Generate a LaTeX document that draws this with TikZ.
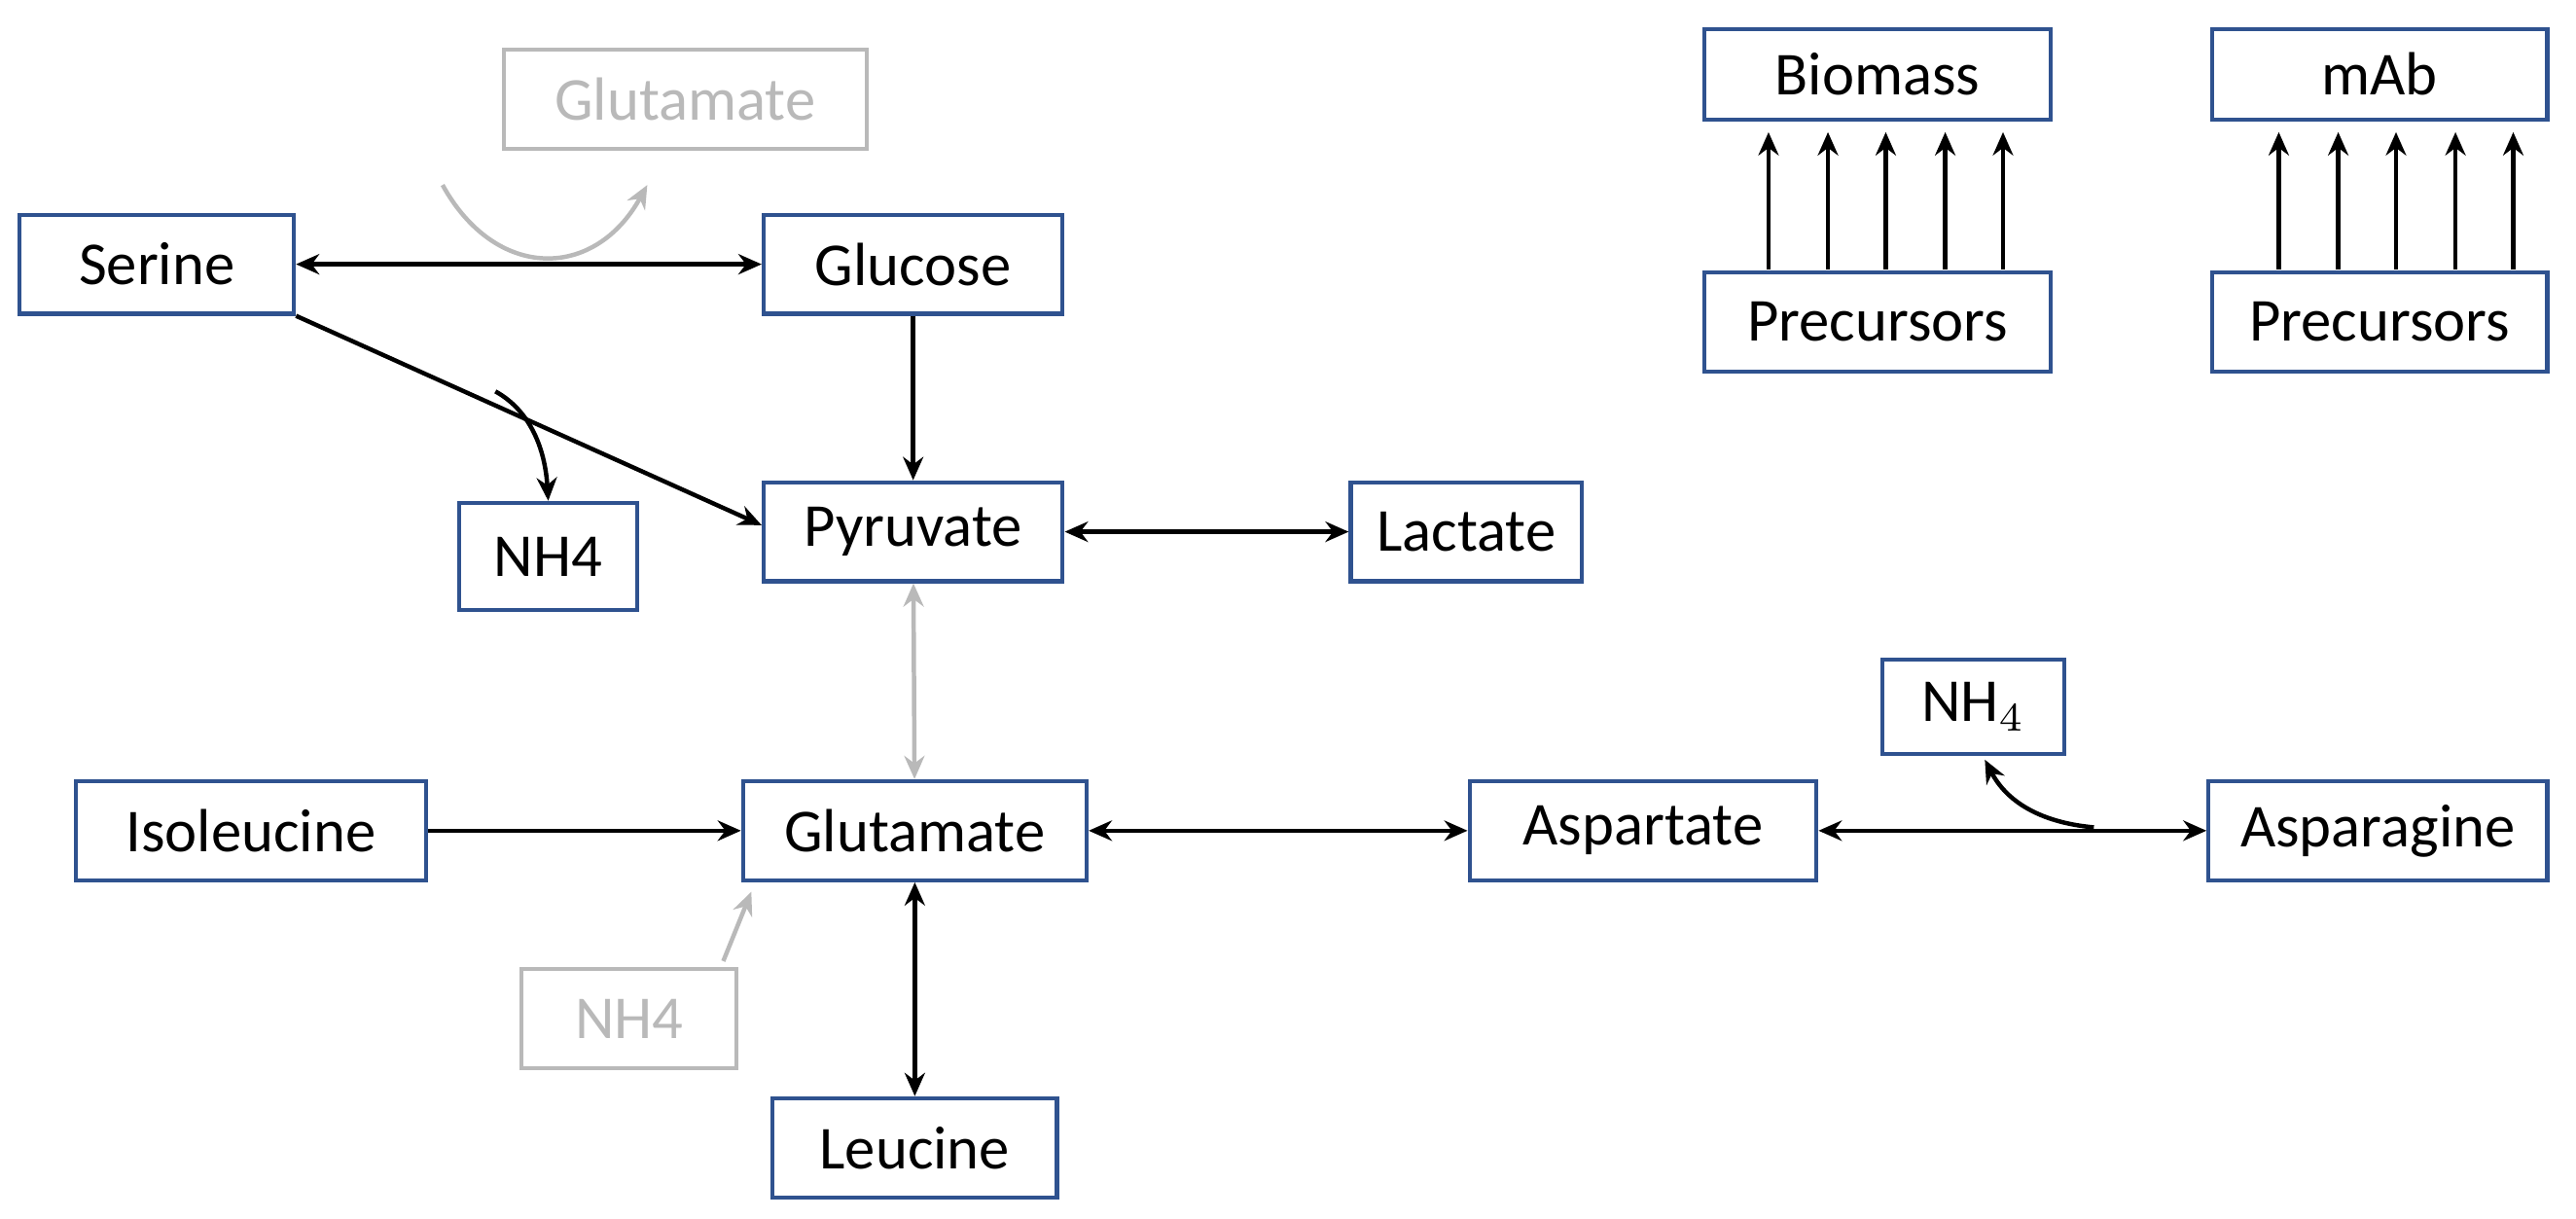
\documentclass[tikz,border=0pt]{standalone}
\usepackage{fontspec}
\setmainfont{Carlito}
\usetikzlibrary{arrows.meta}
\begin{document}
\begin{tikzpicture}[x=0.01cm,y=-0.01cm,
  box/.style={draw=boxblue,line width=0.7pt,minimum height=0.6cm,inner xsep=0.15cm,font=\fontsize{10.5}{12}\selectfont},
  gbox/.style={box,draw=lightgray!90!gray,text=lightgray!90!gray},
  ar/.style={line width=0.75pt,-{Stealth[length=4pt,width=3.5pt]}},
  dar/.style={line width=0.75pt,{Stealth[length=4pt,width=3.5pt]}-{Stealth[length=4pt,width=3.5pt]}},
  grey/.style={draw=lightgray!90!gray}]
\definecolor{boxblue}{RGB}{47,82,143}
\useasboundingbox (0,0) rectangle (1560,738);
\node[gbox,minimum width=2.2cm] (gtop) at (415,60) {Glutamate};
\node[box,minimum width=1.66cm] (ser) at (95,160) {Serine};
\node[box,minimum width=1.81cm] (glc) at (553,160) {Glucose};
\node[box,minimum width=2.1cm,minimum height=0.55cm] (bio) at (1137,45) {Biomass};
\node[box,minimum width=2.1cm] (pre1) at (1137,195) {Precursors};
\node[box,minimum width=2.03cm,minimum height=0.55cm] (mab) at (1441,45) {mAb};
\node[box,minimum width=2.03cm] (pre2) at (1441,195) {Precursors};
\node[box,minimum width=1.08cm,minimum height=0.65cm] (nh) at (332,337) {NH4};
\node[box,minimum width=1.81cm] (pyr) at (553,322) {Pyruvate};
\node[box,minimum width=1.4cm] (lac) at (888,322) {Lactate};
\node[box,minimum width=1.1cm,minimum height=0.57cm] (nhs) at (1195,428) {NH$_4$};
\node[box,minimum width=2.12cm] (ile) at (152,503) {Isoleucine};
\node[box,minimum width=2.08cm] (glu) at (554,503) {Glutamate};
\node[box,minimum width=2.1cm] (asp) at (995,503) {Aspartate};
\node[box,minimum width=2.05cm] (asn) at (1440,503) {Asparagine};
\node[gbox,minimum width=1.3cm] (nhg) at (381,617) {NH4};
\node[box,minimum width=1.72cm] (leu) at (554,695) {Leucine};
\draw[dar] (ser) -- (glc);
\draw[ar,grey] (268,112) .. controls (300,170) and (360,170) .. (392,112);
\draw[ar] (ser.south east) -- (pyr.west |- 0,318);
\draw[ar] (300,237) .. controls (320,248) and (330,270) .. (nh.north);
\draw[ar] (glc) -- (pyr);
\draw[dar] (pyr) -- (lac);
\draw[dar,grey] (pyr) -- (glu);
\draw[ar] (ile) -- (glu);
\draw[dar] (glu) -- (asp);
\draw[dar] (asp) -- (asn);
\draw[ar] (1268,501) .. controls (1235,498) and (1215,485) .. (1202,460);
\draw[ar,grey] (438,582) -- (455,540);
\draw[dar] (glu) -- (leu);
\foreach \x in {1071,1107,1142,1178,1213}{\draw[ar] (\x,163) -- (\x,80);}
\foreach \x in {1380,1416,1451,1487,1522}{\draw[ar] (\x,163) -- (\x,80);}
\end{tikzpicture}
\end{document}
